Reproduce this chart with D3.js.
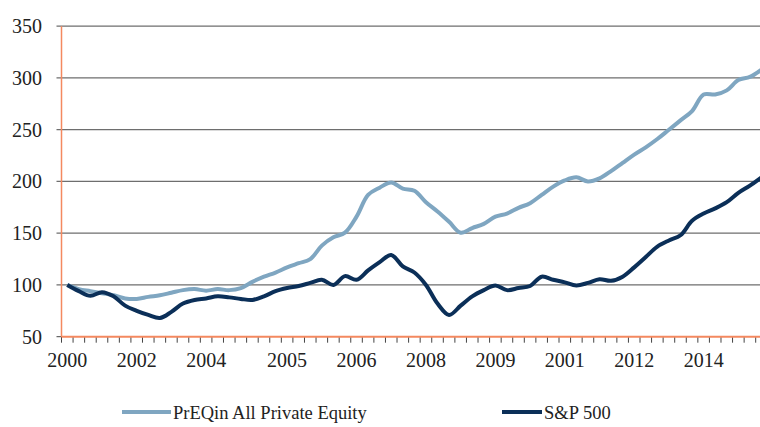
<!DOCTYPE html>
<html>
<head>
<meta charset="utf-8">
<script src="https://cdn.jsdelivr.net/npm/d3@7"></script>
<style>
  html, body { margin: 0; padding: 0; background: #fff; }
  svg { display: block; }
  svg text { font-family: "Liberation Serif", "Times New Roman", Times, "DejaVu Serif", serif; }
</style>
</head>
<body>
<svg id="chart" width="760" height="427"></svg>
<script>
// quarterly index values, 2000 = 100 (61 quarters)
const preqin = [100, 96, 94, 92, 90, 87, 86.5, 88.5, 90, 92.5,
    95, 96, 94.5, 96, 95, 97, 103, 108, 112, 117,
    121, 125, 138, 146, 150.5, 166, 187, 194, 199, 193,
    191, 180, 171, 161, 150.5, 155, 159, 166, 169, 174.5,
    179, 187, 195, 201, 204, 200, 203, 210, 218, 226,
    233, 241, 250, 259, 268, 284, 284, 288, 298, 301, 308];

const sp500 = [100, 94, 89.5, 93, 89, 80, 75, 71, 68, 74,
    82, 85.5, 87, 89, 88, 86.5, 85.5, 89, 94, 97,
    99, 102, 105, 100, 108.5, 105, 114, 122, 129, 118,
    112, 100, 82, 71, 80, 89, 95, 99.5, 95, 97,
    99, 108, 105, 102.5, 99.5, 102, 105.5, 104, 108, 117,
    127, 137, 143, 148, 162, 169, 174, 180, 189, 196, 204];

// category labels as printed on the axis (every ~6 quarters)
const tickLabels = ["2000", "2002", "2004", "2005", "2006", "2008", "2009", "2001", "2012", "2014"];
const tickIndex = [0, 6, 12, 19, 25, 31, 37, 43, 49, 55];

const yTicks = [50, 100, 150, 200, 250, 300, 350];

const seriesNames = ["PrEQin All Private Equity", "S&P 500"];
const seriesColors = ["#7fa6c1", "#0b2f58"];

const FONT = "'Liberation Serif', 'Times New Roman', Times, 'DejaVu Serif', serif";

/* ------------------------------------------------------------------
   Scales
------------------------------------------------------------------ */

const svg = d3.select("#chart");

const PLOT_LEFT = 61.5;
const STEP = 11.57;
const x = d3.scaleBand()
    .domain(d3.range(preqin.length))
    .range([PLOT_LEFT, PLOT_LEFT + STEP * preqin.length]);

const y = d3.scaleLinear()
    .domain([50, 350])
    .range([336.7, 26.2]);

/* ------------------------------------------------------------------
   Grid + axes
------------------------------------------------------------------ */

svg.append("g")
    .selectAll("line")
    .data(yTicks.filter(t => t > 50))
    .join("line")
    .attr("x1", PLOT_LEFT - 5)
    .attr("x2", 760)
    .attr("y1", d => y(d))
    .attr("y2", d => y(d))
    .attr("stroke", "#6e6e6e")
    .attr("stroke-width", 1.3);

svg.append("g")
    .selectAll("text")
    .data(yTicks)
    .join("text")
    .attr("x", 42)
    .attr("y", d => y(d))
    .attr("dy", "0.34em")
    .attr("text-anchor", "end")
    .attr("font-family", FONT)
    .attr("font-size", 20)
    .attr("fill", "#222")
    .text(d => d);

// x ticks at category boundaries
svg.append("g")
    .selectAll("line")
    .data(d3.range(preqin.length + 1))
    .join("line")
    .attr("x1", d => PLOT_LEFT + d * STEP)
    .attr("x2", d => PLOT_LEFT + d * STEP)
    .attr("y1", y(50))
    .attr("y2", y(50) + 6)
    .attr("stroke", "#444")
    .attr("stroke-width", 1);

svg.append("line")
    .attr("x1", PLOT_LEFT - 5).attr("x2", PLOT_LEFT)
    .attr("y1", y(50)).attr("y2", y(50))
    .attr("stroke", "#444");

svg.append("g")
    .selectAll("text")
    .data(tickIndex)
    .join("text")
    .attr("x", d => x(d) + x.bandwidth() / 2)
    .attr("y", 367)
    .attr("text-anchor", "middle")
    .attr("font-family", FONT)
    .attr("font-size", 20)
    .attr("fill", "#222")
    .text((d, i) => tickLabels[i]);

// orange axis lines
svg.append("line")
    .attr("x1", PLOT_LEFT).attr("x2", PLOT_LEFT)
    .attr("y1", y(350)).attr("y2", y(50))
    .attr("stroke", "#f4895f")
    .attr("stroke-width", 1.5);

svg.append("line")
    .attr("x1", PLOT_LEFT).attr("x2", 760)
    .attr("y1", y(50)).attr("y2", y(50))
    .attr("stroke", "#f4895f")
    .attr("stroke-width", 2);

/* ------------------------------------------------------------------
   Lines
------------------------------------------------------------------ */

const line = d3.line()
    .x((d, i) => x(i) + x.bandwidth() / 2)
    .y(d => y(d))
    .curve(d3.curveCatmullRom.alpha(0.5));

[preqin, sp500].forEach((values, k) => {
    svg.append("path")
        .datum(values)
        .attr("fill", "none")
        .attr("stroke", seriesColors[k])
        .attr("stroke-width", 4)
        .attr("stroke-linejoin", "round")
        .attr("d", line);
});

/* ------------------------------------------------------------------
   Legend
------------------------------------------------------------------ */

const legendX = [122, 502];
const legendLen = [49, 40];

const legend = svg.append("g")
    .selectAll("g")
    .data(seriesNames)
    .join("g")
    .attr("transform", (d, i) => `translate(${legendX[i]},412)`);

legend.append("line")
    .attr("x1", 0)
    .attr("x2", (d, i) => legendLen[i])
    .attr("stroke", (d, i) => seriesColors[i])
    .attr("stroke-width", 4);

legend.append("text")
    .attr("x", (d, i) => legendLen[i] + 2)
    .attr("y", 7)
    .attr("font-family", FONT)
    .attr("font-size", 18.5)
    .attr("fill", "#222")
    .text(d => d);
</script>
</body>
</html>
